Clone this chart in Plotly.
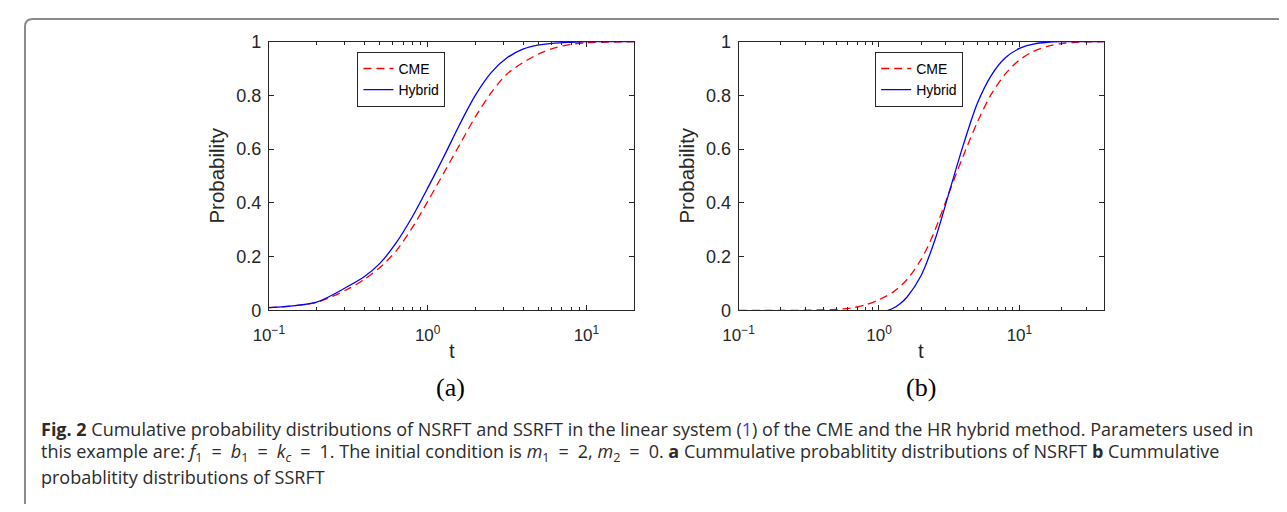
import plotly.graph_objects as go
import math

# The page body keeps the browser's 8px margin, so the figure is 16px smaller
# than the 1287x512 window and all reference pixel positions are shifted by 8.
PAGE_W, PAGE_H = 1287, 512
OFF = 8
W, H = PAGE_W - 2 * OFF, PAGE_H - 2 * OFF

# ---------------- data ----------------
# Panel (a): NSRFT
t_a = [0.1, 0.2, 0.316, 0.398, 0.5, 0.631, 0.794, 1.0, 1.259, 1.585, 1.995,
       2.512, 3.162, 3.981, 5.012, 6.31, 7.943, 10.0, 20.0]
p_a_cme = [0.01, 0.03, 0.08, 0.115, 0.16, 0.22, 0.305, 0.405, 0.51, 0.615, 0.72,
           0.81, 0.88, 0.922, 0.955, 0.977, 0.99, 0.996, 1.0]
p_a_hybrid = [0.01, 0.031, 0.09, 0.125, 0.175, 0.25, 0.345, 0.455, 0.57, 0.69, 0.80,
              0.885, 0.94, 0.972, 0.988, 0.995, 0.998, 1.0, 1.0]

# Panel (b): SSRFT
t_b_cme = [0.1, 0.2, 0.316, 0.5, 0.631, 0.794, 1.0, 1.259, 1.585, 1.995, 2.239,
           2.512, 3.162, 3.981, 5.012, 6.31, 7.943, 10.0, 12.59, 15.85, 19.95,
           25.12, 40.0]
p_b_cme = [0.0, 0.0, 0.001, 0.004, 0.009, 0.02, 0.04, 0.068, 0.115, 0.19, 0.24,
           0.30, 0.44, 0.575, 0.70, 0.805, 0.88, 0.932, 0.964, 0.983, 0.993,
           0.998, 1.0]
t_b_hybrid = [1.156, 1.259, 1.413, 1.585, 1.995, 2.512, 3.162, 3.981, 5.012, 6.31,
              7.943, 10.0, 12.59, 15.85, 19.95, 40.0]
p_b_hybrid = [0.0, 0.008, 0.025, 0.05, 0.13, 0.265, 0.44, 0.615, 0.77, 0.875,
              0.94, 0.975, 0.991, 0.998, 1.0, 1.0]

x_range_a = [0.1, 20]
x_range_b = [0.1, 40]
x_tickvals = [0.1, 1, 10]
x_ticktext = ["10<sup>−1</sup>", "10<sup>0</sup>", "10<sup>1</sup>"]
y_tickvals = [0, 0.2, 0.4, 0.6, 0.8, 1]
y_ticktext = ["0", "0.2", "0.4", "0.6", "0.8", "1"]
series_names = ["CME", "Hybrid"]
panel_labels = ["(a)", "(b)"]
caption_lines = [
    "<b>Fig. 2</b> Cumulative probability distributions of NSRFT and SSRFT in the linear system "
    "(<span style='color:#3b3bd6'>1</span>) of the CME and the HR hybrid method. Parameters used in",
    "this example are: <i>f</i><sub>1</sub>\u2002=\u2002<i>b</i><sub>1</sub>\u2002=\u2002<i>k<sub>c</sub></i>\u2002=\u20021. "
    "The initial condition is <i>m</i><sub>1</sub>\u2002=\u20022, <i>m</i><sub>2</sub>\u2002=\u20020. "
    "<b>a</b> Cummulative probablitity distributions of NSRFT <b>b</b> Cummulative",
    "probablitity distributions of SSRFT",
]

# ---------------- figure ----------------

def px_x(p):
    return (p - OFF) / W

def px_y(p):
    return 1 - (p - OFF) / H

RED = "#ff0000"
BLUE = "#0000ff"
AX = "#262626"
YTICKFONT = dict(family="Liberation Sans, Arial", size=18, color=AX)
XTICKFONT = dict(family="Liberation Sans, Arial", size=17, color=AX)

fig = go.Figure()

fig.add_trace(go.Scatter(x=t_a, y=p_a_cme, name=series_names[0], mode="lines",
                         line=dict(color=RED, width=1.3, dash="8px,5px", shape="spline", smoothing=0.8),
                         xaxis="x", yaxis="y", legend="legend"))
fig.add_trace(go.Scatter(x=t_a, y=p_a_hybrid, name=series_names[1], mode="lines",
                         line=dict(color=BLUE, width=1.3, shape="spline", smoothing=0.8),
                         xaxis="x", yaxis="y", legend="legend"))
fig.add_trace(go.Scatter(x=t_b_cme, y=p_b_cme, name=series_names[0], mode="lines",
                         line=dict(color=RED, width=1.3, dash="8px,5px", shape="spline", smoothing=0.8),
                         xaxis="x2", yaxis="y2", legend="legend2"))
fig.add_trace(go.Scatter(x=t_b_hybrid, y=p_b_hybrid, name=series_names[1], mode="lines",
                         line=dict(color=BLUE, width=1.3, shape="spline", smoothing=0.8),
                         xaxis="x2", yaxis="y2", legend="legend2"))

dom_a = [px_x(256), px_x(626)]
dom_b = [px_x(731.7), px_x(1101.7)]
dom_y = [px_y(312.7), px_y(32.7)]


def minor_vals(rng):
    vals = []
    for k in (-1, 0, 1):
        for m in range(2, 10):
            v = m * 10 ** k
            if rng[0] < v < rng[1]:
                vals.append(v)
    return vals


def xaxis(dom, rng, anchor):
    return dict(domain=dom, anchor=anchor, type="log",
                range=[math.log10(rng[0]), math.log10(rng[1])],
                tickmode="array", tickvals=x_tickvals, ticktext=x_ticktext,
                ticks="inside", ticklen=5, tickwidth=1, tickcolor=AX,
                ticklabelstandoff=9,
                showline=True, linecolor=AX, linewidth=1, mirror="ticks",
                showgrid=False, zeroline=False, tickfont=XTICKFONT,
                minor=dict(tickmode="array", tickvals=minor_vals(rng), ticks="inside",
                           ticklen=3, tickwidth=1, tickcolor=AX, showgrid=False))


def yaxis(anchor):
    return dict(domain=dom_y, anchor=anchor, range=[0, 1],
                tickmode="array", tickvals=y_tickvals, ticktext=y_ticktext,
                ticks="inside", ticklen=5, tickwidth=1, tickcolor=AX,
                ticklabelstandoff=3,
                showline=True, linecolor=AX, linewidth=1, mirror="ticks",
                showgrid=False, zeroline=False, tickfont=YTICKFONT)


legend_common = dict(bgcolor="white", bordercolor=AX, borderwidth=1,
                     font=dict(family="Liberation Sans, Arial", size=14, color="black"),
                     xanchor="left", yanchor="top", tracegroupgap=0,
                     itemwidth=30)

fig.update_layout(
    width=W, height=H,
    margin=dict(l=0, r=0, t=0, b=0),
    paper_bgcolor="white", plot_bgcolor="white",
    xaxis=xaxis(dom_a, x_range_a, "y"),
    yaxis=yaxis("x"),
    xaxis2=xaxis(dom_b, x_range_b, "y2"),
    yaxis2=yaxis("x2"),
    legend=dict(x=px_x(345.7), y=px_y(43.3), **legend_common),
    legend2=dict(x=px_x(870), y=px_y(43.3), **legend_common),
    showlegend=True,
)

annotations = []
AXTITLE = dict(family="Liberation Sans, Arial", size=20.5, color=AX)
for cx, tx in ((203, 441), (678, 916.7)):
    annotations.append(dict(text="Probability", textangle=-90, x=px_x(cx), y=px_y(172.7),
                            xref="paper", yref="paper", showarrow=False,
                            xanchor="center", yanchor="middle", font=AXTITLE))
    annotations.append(dict(text="t", x=px_x(tx), y=px_y(354), xref="paper", yref="paper",
                            showarrow=False, xanchor="center", yanchor="middle", font=AXTITLE))
for lab, cx in zip(panel_labels, (440, 916)):
    annotations.append(dict(text=lab, x=px_x(cx), y=px_y(393), xref="paper", yref="paper",
                            showarrow=False, xanchor="center", yanchor="middle",
                            font=dict(family="Liberation Serif, Times New Roman", size=26, color="black")))
for line, cy in zip(caption_lines, (436, 461, 486)):
    annotations.append(dict(text=line, x=px_x(23), y=px_y(cy), xref="paper", yref="paper",
                            showarrow=False, xanchor="left", yanchor="middle", align="left",
                            font=dict(family="Open Sans", size=18, color="#2b2b2b")))
fig.update_layout(annotations=annotations)

# rounded frame around the figure (reference frame sits at the page's top-left)
x0 = 1 / W
yt = 1 - 1 / H
rx = 8 / W
ry = 8 / H
fig.add_shape(type="path", xref="paper", yref="paper",
              path=f"M {x0},-0.2 L {x0},{yt - ry} Q {x0},{yt} {x0 + rx},{yt} L 1.2,{yt}",
              line=dict(color="#8a8a8a", width=2))

fig.write_html("out.html", config={"displayModeBar": False})
